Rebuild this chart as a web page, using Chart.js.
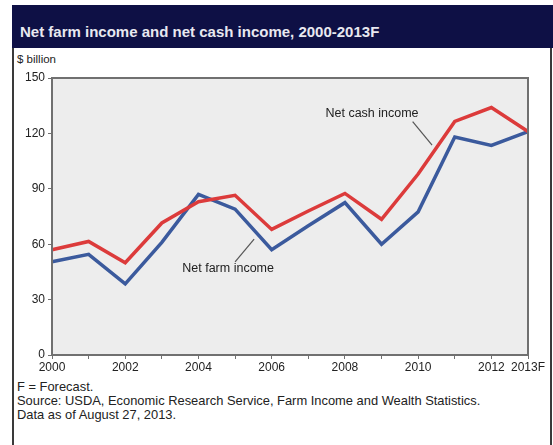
<!DOCTYPE html>
<html>
<head>
<meta charset="utf-8">
<script src="https://cdn.jsdelivr.net/npm/chart.js@4.4.1/dist/chart.umd.min.js"></script>
<style>
  html, body { margin: 0; padding: 0; background: #fff; }
  body { width: 553px; height: 445px; position: relative; overflow: hidden; font-family: "Liberation Sans", Arial, sans-serif; }
  #frame { position: absolute; left: 12px; top: 48px; width: 536px; height: 400px; border-left: 2px solid #3a3a3a; border-right: 2px solid #3a3a3a; }
  #band { position: absolute; left: 12px; top: 5px; width: 541px; height: 43px; background: #0e1045; }
  #title { position: absolute; left: 20px; top: 23px; color: #e8e8f0; font-weight: bold; font-size: 15px; }
  #unit { position: absolute; left: 17px; top: 53px; color: #222; font-size: 11.5px; }
  #notes { position: absolute; left: 17px; top: 380px; color: #222; font-size: 12.9px; line-height: 14px; }
  #wrap { position: absolute; left: 0; top: 0; width: 553px; height: 445px; }
</style>
</head>
<body>
<div id="band"></div>
<div id="frame"></div>
<div id="title">Net farm income and net cash income, 2000-2013F</div>
<div id="unit">$ billion</div>
<div id="notes">F = Forecast.<br>Source: USDA, Economic Research Service, Farm Income and Wealth Statistics.<br>Data as of August 27, 2013.</div>
<div id="wrap"><canvas id="incomeChart"></canvas></div>
<script>
// 資料
const years = ['2000', '2001', '2002', '2003', '2004', '2005', '2006', '2007', '2008', '2009', '2010', '2011', '2012', '2013F'];
const netFarmIncome = [50.5, 54.5, 38.5, 61, 87, 79, 57, 70, 82.5, 60, 77.5, 118, 113.5, 121];
const netCashIncome = [57, 61.5, 50, 71.5, 83, 86.5, 68, 78, 87.5, 73.5, 98, 126.5, 134, 121];
const yTicks = [0, 30, 60, 90, 120, 150];
const xTickShown = ['2000', '2002', '2004', '2006', '2008', '2010', '2012', '2013F'];

// 線上標籤 (以資料座標表示: x = 年份索引, y = 數值)
const callouts = [
    { text: 'Net cash income', x: 8.74, y: 131, line: [[9.85, 126.4], [10.38, 113.7]] },
    { text: 'Net farm income', x: 4.81, y: 47, line: [[5.0, 50.4], [5.52, 62.8]] }
];

// 畫圖區背景、外框與標籤
const plotDecor = {
    id: 'plotDecor',
    beforeDatasetsDraw(chart) {
        const { ctx, chartArea: a } = chart;
        ctx.save();
        ctx.fillStyle = '#ededed';
        ctx.fillRect(a.left, a.top, a.right - a.left, a.bottom - a.top);
        ctx.restore();
    },
    afterDatasetsDraw(chart) {
        const { ctx, chartArea: a, scales } = chart;
        ctx.save();
        ctx.strokeStyle = '#707070';
        ctx.lineWidth = 2;
        ctx.strokeRect(a.left, a.top, a.right - a.left, a.bottom - a.top);

        ctx.font = '12.5px "Liberation Sans", Arial, sans-serif';
        ctx.fillStyle = '#222';
        ctx.textAlign = 'center';
        ctx.textBaseline = 'middle';
        callouts.forEach(c => {
            ctx.fillText(c.text, scales.x.getPixelForValue(c.x), scales.y.getPixelForValue(c.y));
            ctx.beginPath();
            ctx.strokeStyle = '#555';
            ctx.lineWidth = 1.2;
            ctx.moveTo(scales.x.getPixelForValue(c.line[0][0]), scales.y.getPixelForValue(c.line[0][1]));
            ctx.lineTo(scales.x.getPixelForValue(c.line[1][0]), scales.y.getPixelForValue(c.line[1][1]));
            ctx.stroke();
        });
        ctx.restore();
    }
};

const ctx = document.getElementById('incomeChart').getContext('2d');
const incomeChart = new Chart(ctx, {
    type: 'line',
    data: {
        labels: years,
        datasets: [{
            label: 'Net cash income',
            data: netCashIncome,
            borderColor: '#dc3b3b',
            borderWidth: 3.5,
            pointRadius: 0,
            tension: 0
        }, {
            label: 'Net farm income',
            data: netFarmIncome,
            borderColor: '#3b5a9d',
            borderWidth: 3.5,
            pointRadius: 0,
            tension: 0
        }]
    },
    options: {
        responsive: true,
        maintainAspectRatio: false,
        animation: false,
        layout: { padding: { left: 10, top: 78, right: 25, bottom: 68 } },
        plugins: { legend: { display: false }, tooltip: { enabled: false } },
        scales: {
            x: {
                type: 'category',
                offset: false,
                afterFit: s => { s.height = 22; },
                grid: { drawOnChartArea: false, tickLength: 4, color: '#707070' },
                border: { display: false },
                ticks: {
                    autoSkip: false,
                    maxRotation: 0,
                    padding: 1,
                    color: '#222',
                    font: { size: 12, family: '"Liberation Sans", Arial, sans-serif' },
                    callback: function(v) {
                        const lab = this.getLabelForValue(v);
                        return xTickShown.includes(lab) ? lab : '';
                    }
                }
            },
            y: {
                min: 0,
                max: 150,
                afterFit: s => { s.width = 42; },
                afterBuildTicks: s => { s.ticks = yTicks.map(v => ({ value: v })); },
                grid: { drawOnChartArea: false, tickLength: 4, color: '#707070' },
                border: { display: false },
                ticks: {
                    padding: 3,
                    color: '#222',
                    font: { size: 12, family: '"Liberation Sans", Arial, sans-serif' }
                }
            }
        }
    },
    plugins: [plotDecor]
});
</script>
</body>
</html>
